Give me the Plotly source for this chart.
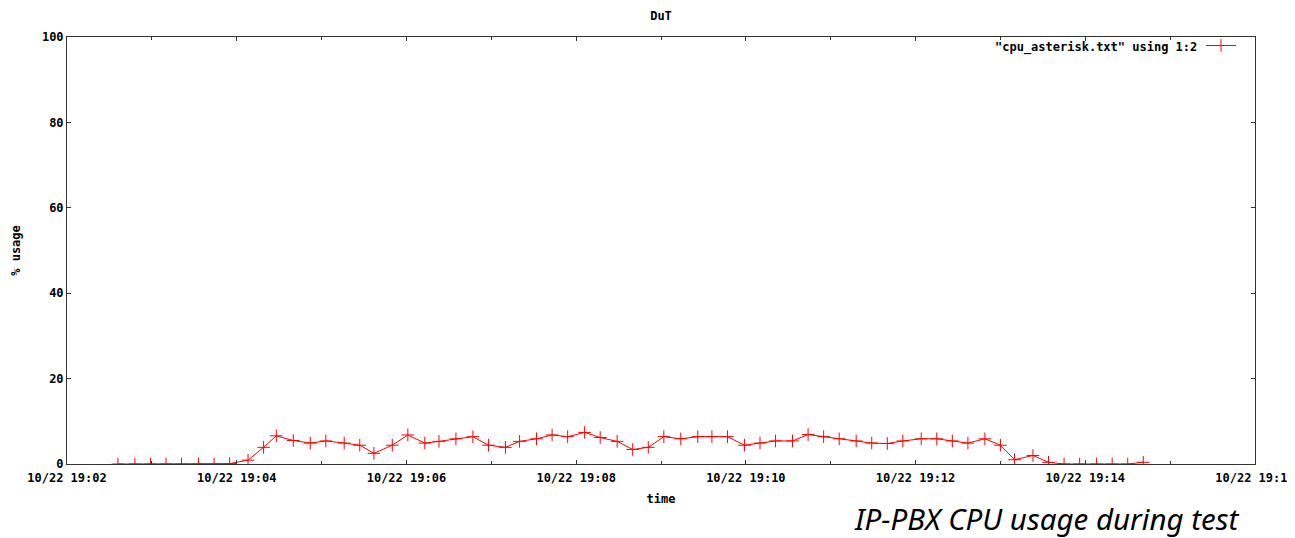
import plotly.graph_objects as go

times = [
    "2012-10-22 19:02:36", "2012-10-22 19:02:48", "2012-10-22 19:02:59", "2012-10-22 19:03:10",
    "2012-10-22 19:03:21", "2012-10-22 19:03:33", "2012-10-22 19:03:44", "2012-10-22 19:03:55",
    "2012-10-22 19:04:08", "2012-10-22 19:04:19", "2012-10-22 19:04:28", "2012-10-22 19:04:40",
    "2012-10-22 19:04:52", "2012-10-22 19:05:03", "2012-10-22 19:05:16", "2012-10-22 19:05:27",
    "2012-10-22 19:05:37", "2012-10-22 19:05:50", "2012-10-22 19:06:01", "2012-10-22 19:06:13",
    "2012-10-22 19:06:23", "2012-10-22 19:06:35", "2012-10-22 19:06:47", "2012-10-22 19:06:58",
    "2012-10-22 19:07:10", "2012-10-22 19:07:20", "2012-10-22 19:07:32", "2012-10-22 19:07:43",
    "2012-10-22 19:07:54", "2012-10-22 19:08:06", "2012-10-22 19:08:17", "2012-10-22 19:08:29",
    "2012-10-22 19:08:40", "2012-10-22 19:08:51", "2012-10-22 19:09:02", "2012-10-22 19:09:14",
    "2012-10-22 19:09:26", "2012-10-22 19:09:36", "2012-10-22 19:09:47", "2012-10-22 19:09:59",
    "2012-10-22 19:10:10", "2012-10-22 19:10:21", "2012-10-22 19:10:33", "2012-10-22 19:10:44",
    "2012-10-22 19:10:55", "2012-10-22 19:11:06", "2012-10-22 19:11:18", "2012-10-22 19:11:29",
    "2012-10-22 19:11:40", "2012-10-22 19:11:51", "2012-10-22 19:12:04", "2012-10-22 19:12:15",
    "2012-10-22 19:12:26", "2012-10-22 19:12:37", "2012-10-22 19:12:49", "2012-10-22 19:13:00",
    "2012-10-22 19:13:10", "2012-10-22 19:13:23", "2012-10-22 19:13:34", "2012-10-22 19:13:45",
    "2012-10-22 19:13:56", "2012-10-22 19:14:08", "2012-10-22 19:14:19", "2012-10-22 19:14:30",
    "2012-10-22 19:14:41",
]

cpu_usage = [
    0, 0, 0, 0,
    0, 0, 0, 0.1,
    0.9, 3.9, 6.6, 5.5,
    4.9, 5.4, 4.9, 4.4,
    2.5, 4.4, 6.8, 4.9,
    5.3, 5.9, 6.4, 4.4,
    3.9, 5.3, 5.9, 6.8,
    6.4, 7.4, 6.2, 5.3,
    3.4, 3.9, 6.4, 5.9,
    6.4, 6.4, 6.4, 4.4,
    4.9, 5.4, 5.4, 6.9,
    6.4, 5.9, 5.4, 4.9,
    4.8, 5.4, 5.9, 5.9,
    5.4, 4.9, 5.9, 4.4,
    1.0, 2.0, 0.4, 0,
    0, 0, 0, 0,
    0.4,
]

x_range = ["2012-10-22 19:02:00", "2012-10-22 19:16:00"]
y_ticks = [0, 20, 40, 60, 80, 100]

series_name = '"cpu_asterisk.txt" using 1:2'
title_text = "DuT"
x_title = "time"
y_title = "% usage"
caption = "IP-PBX CPU usage during test"

MONO = "DejaVu Sans Mono"
AXC = "#333333"

W, H = 1287, 530
ML, MT, PW, PH = 59, 29, 1188, 427

fig = go.Figure()
fig.add_trace(go.Scatter(
    x=times, y=cpu_usage, mode="lines+markers", name=" ",
    line=dict(color="#ff0000", width=1),
    marker=dict(symbol="cross-thin", size=9, line=dict(color="#ff0000", width=1), color="#ff0000"),
    showlegend=True,
))

axis_common = dict(
    showline=True, linecolor=AXC, linewidth=1, mirror="ticks",
    ticks="inside", ticklen=4, tickcolor=AXC, tickwidth=1,
    showgrid=False, zeroline=False, automargin=False,
    tickfont=dict(family=MONO, size=12, color="#000000", weight="bold"),
)

fig.update_layout(
    width=W, height=H,
    margin=dict(l=ML, r=W - ML - PW, t=MT, b=H - MT - PH, autoexpand=False),
    paper_bgcolor="white", plot_bgcolor="white",
    title=dict(text=title_text, x=0.5, xref="paper", y=1 - 8 / H, yref="container",
               xanchor="center", yanchor="middle",
               font=dict(family=MONO, size=12, color="#000000", weight="bold")),
    xaxis=dict(
        type="date", range=x_range, dtick=120000, tick0=x_range[0],
        tickformat="%m/%d %H:%M", ticklabelstandoff=3,
        minor=dict(dtick=60000, ticks="inside", ticklen=3, tickcolor=AXC, showgrid=False),
        title=dict(text=x_title, standoff=10,
                   font=dict(family=MONO, size=12, color="#000000", weight="bold")),
        **axis_common,
    ),
    yaxis=dict(
        range=[0, 100], tickvals=y_ticks,
        title=dict(text=y_title, standoff=18,
                   font=dict(family=MONO, size=12, color="#000000", weight="bold")),
        **axis_common,
    ),
    showlegend=True,
    legend=dict(x=(1193 - ML) / PW, y=1.014, xanchor="left", yanchor="top",
                bgcolor="rgba(0,0,0,0)", borderwidth=0,
                font=dict(family=MONO, size=12, color="#000000"),
                itemwidth=30, tracegroupgap=0),
    annotations=[
        dict(text=series_name, xref="paper", yref="paper", x=(1191 - ML) / PW, y=1 - 10 / PH,
             xanchor="right", yanchor="middle", showarrow=False,
             font=dict(family=MONO, size=12, color="#000000", weight="bold")),
        dict(text=caption, xref="paper", yref="paper", x=(1234 - ML) / PW, y=-55 / PH,
             xanchor="right", yanchor="middle", showarrow=False,
             font=dict(family="Noto Sans", size=29.5, color="#000000", style="italic")),
    ],
)

fig.write_html("out.html")
